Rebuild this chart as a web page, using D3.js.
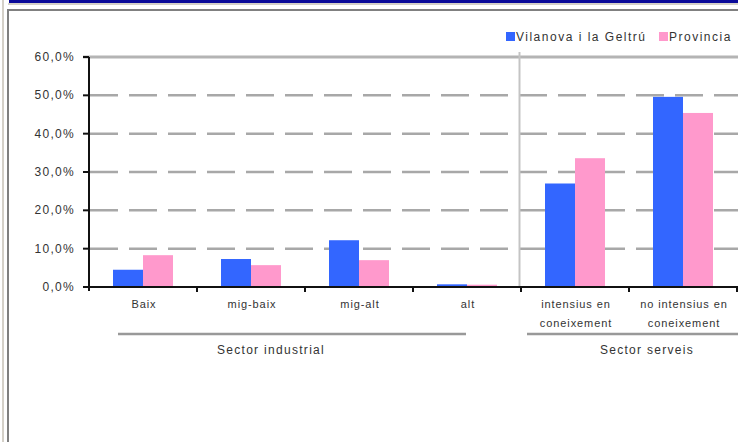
<!DOCTYPE html>
<html>
<head>
<meta charset="utf-8">
<script src="https://cdn.jsdelivr.net/npm/d3@7"></script>
<style>
  body { margin: 0; background: #fff; }
  text { font-family: "Liberation Sans", Arial, sans-serif; fill: #333; }
</style>
</head>
<body>
<div id="Area"></div>
<script>
// Data
var categories = ["Baix", "mig-baix", "mig-alt", "alt", "intensius en\nconeixement", "no intensius en\nconeixement"];
var series = ["Vilanova i la Geltrú", "Provincia"];
var vilanova = [4.5, 7.3, 12.2, 0.7, 27.0, 49.6];
var provincia = [8.3, 5.7, 7.0, 0.6, 33.6, 45.4];
var yTicks = [0, 10, 20, 30, 40, 50, 60];
var groupNames = ["Sector industrial", "Sector serveis"];
var groupStart = [0, 4];
var groupEnd = [3, 5];

var colors = ["#3366ff", "#ff99cc"];
var width = 738, height = 442;

var svg = d3.select("#Area")
    .append("svg")
    .attr("width", width)
    .attr("height", height);

// window frame
svg.append("rect").attr("x", 2).attr("y", 0).attr("width", 2).attr("height", height).attr("fill", "#d4d0c8");
svg.append("rect").attr("x", 9).attr("y", 0).attr("width", width - 9).attr("height", 3).attr("fill", "#0a0a99");
svg.append("rect").attr("x", 8).attr("y", 3).attr("width", width - 8).attr("height", 2).attr("fill", "#d4d0c8");
svg.append("rect").attr("x", 7).attr("y", 9).attr("width", 2).attr("height", height - 9).attr("fill", "#808080");
svg.append("rect").attr("x", 7).attr("y", 9).attr("width", width - 7).attr("height", 2).attr("fill", "#808080");

// scales
var x = d3.scaleBand()
    .domain(categories)
    .range([89, 737])
    .paddingInner(0)
    .paddingOuter(0);

var x1 = d3.scaleBand()
    .domain(series)
    .range([0, x.bandwidth()])
    .paddingInner(0)
    .paddingOuter(0.8);

var y = d3.scaleLinear()
    .domain([0, 60])
    .range([287, 57]);

var fmt = function(d) { return d3.format(".1f")(d).replace(".", ",") + "%"; };

// grid lines
svg.append("g").selectAll("line")
    .data(yTicks.filter(function(d) { return d > 0 && d < 60; }))
    .enter().append("line")
    .attr("x1", 90).attr("x2", width)
    .attr("y1", function(d) { return y(d); })
    .attr("y2", function(d) { return y(d); })
    .attr("stroke", "#a8a8a8")
    .attr("stroke-width", 2.5)
    .attr("stroke-dasharray", "28,11");

// top line at 60%
svg.append("line")
    .attr("x1", 83).attr("x2", width)
    .attr("y1", y(60)).attr("y2", y(60))
    .attr("stroke", "#b4b4b4")
    .attr("stroke-width", 3);

// separator between sectors
svg.append("line")
    .attr("x1", x(categories[4]) - 1.5).attr("x2", x(categories[4]) - 1.5)
    .attr("y1", 52).attr("y2", y(0))
    .attr("stroke", "#c4c4c4")
    .attr("stroke-width", 2);

// bars
var values = [vilanova, provincia];
var groups = svg.append("g").selectAll("g")
    .data(categories)
    .enter().append("g")
    .attr("transform", function(d) { return "translate(" + x(d) + ",0)"; });

groups.selectAll("rect")
    .data(function(d, i) { return series.map(function(s, j) { return {s: s, v: values[j][i], c: colors[j]}; }); })
    .enter().append("rect")
    .attr("x", function(d) { return x1(d.s); })
    .attr("width", x1.bandwidth())
    .attr("y", function(d) { return y(d.v); })
    .attr("height", function(d) { return y(0) - y(d.v); })
    .attr("fill", function(d) { return d.c; });

// y axis
svg.append("line")
    .attr("x1", 89).attr("x2", 89)
    .attr("y1", y(60)).attr("y2", y(0) + 4)
    .attr("stroke", "#111").attr("stroke-width", 2);

svg.append("g").selectAll("line")
    .data(yTicks)
    .enter().append("line")
    .attr("x1", 83).attr("x2", 89)
    .attr("y1", function(d) { return y(d); })
    .attr("y2", function(d) { return y(d); })
    .attr("stroke", "#111").attr("stroke-width", 2);

svg.append("g").selectAll("text")
    .data(yTicks)
    .enter().append("text")
    .attr("x", 75)
    .attr("y", function(d) { return y(d) + 4; })
    .attr("text-anchor", "end")
    .style("font-size", "12px")
    .style("letter-spacing", "1.3px")
    .text(fmt);

// x axis
svg.append("line")
    .attr("x1", 83).attr("x2", width)
    .attr("y1", y(0)).attr("y2", y(0))
    .attr("stroke", "#111").attr("stroke-width", 2);

svg.append("g").selectAll("line")
    .data(categories)
    .enter().append("line")
    .attr("x1", function(d) { return x(d) + x.bandwidth(); })
    .attr("x2", function(d) { return x(d) + x.bandwidth(); })
    .attr("y1", y(0)).attr("y2", y(0) + 5)
    .attr("stroke", "#111").attr("stroke-width", 2);

var xl = svg.append("g").selectAll("text")
    .data(categories)
    .enter().append("text")
    .attr("text-anchor", "middle")
    .attr("transform", function(d) { return "translate(" + (x(d) + x.bandwidth() / 2 + 1) + ",308)"; })
    .style("font-size", "11px")
    .style("letter-spacing", "0.9px");

xl.selectAll("tspan")
    .data(function(d) { return d.split("\n"); })
    .enter().append("tspan")
    .attr("x", 0)
    .attr("dy", function(d, i) { return i ? 19 : 0; })
    .text(function(d) { return d; });

// sector group lines and labels
var groupLineInset = [[29, 55], [6, -10]];
var groupLabelShift = [-34, 18];
groupNames.forEach(function(g, i) {
    var x0 = x(categories[groupStart[i]]) + groupLineInset[i][0];
    var xEnd = x(categories[groupEnd[i]]) + x.bandwidth() - groupLineInset[i][1];
    svg.append("line")
        .attr("x1", x0).attr("x2", xEnd)
        .attr("y1", 334).attr("y2", 334)
        .attr("stroke", "#999").attr("stroke-width", 2.5);
    var mid = (x(categories[groupStart[i]]) + x(categories[groupEnd[i]]) + x.bandwidth()) / 2;
    svg.append("text")
        .attr("x", mid + groupLabelShift[i])
        .attr("y", 354)
        .attr("text-anchor", "middle")
        .style("font-size", "12px")
        .style("letter-spacing", "1.3px")
        .text(g);
});

// legend
var legendX = [506, 659];
var legend = svg.append("g").selectAll("g")
    .data(series)
    .enter().append("g")
    .attr("transform", function(d, i) { return "translate(" + legendX[i] + ",0)"; });

legend.append("rect")
    .attr("x", 0).attr("y", 32)
    .attr("width", 9).attr("height", 9)
    .attr("fill", function(d, i) { return colors[i]; });

legend.append("text")
    .attr("x", 10).attr("y", 41)
    .style("font-size", "12px")
    .style("letter-spacing", "1.5px")
    .text(function(d) { return d; });
</script>
</body>
</html>
